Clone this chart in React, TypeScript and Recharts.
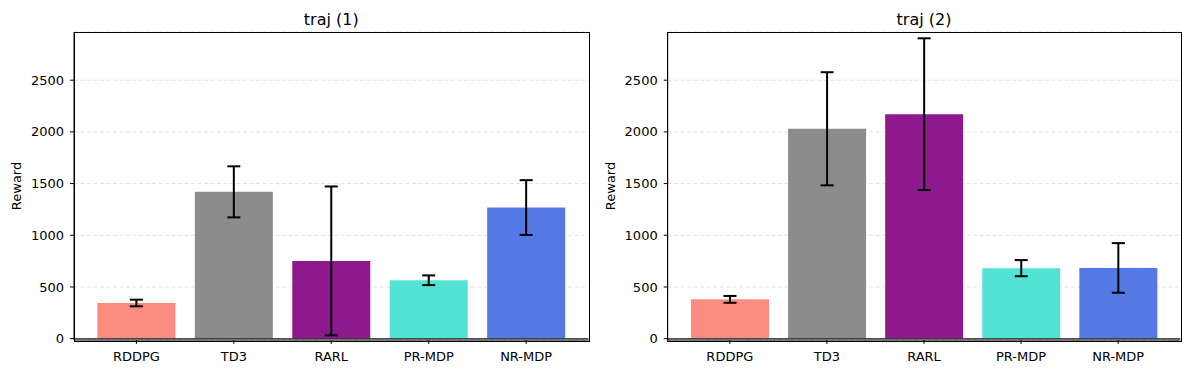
import React from 'react';
import { BarChart, Bar, XAxis, YAxis, CartesianGrid, ErrorBar, ReferenceLine, Cell } from 'recharts';

const categories = ['RDDPG', 'TD3', 'RARL', 'PR-MDP', 'NR-MDP'];
const barColors = ['#FB8D80', '#8C8C8C', '#8D198D', '#53E3D5', '#5478E4'];

const traj1Mean = [345, 1420, 752, 565, 1268];
const traj1Err = [32, 247, 720, 47, 265];

const traj2Mean = [380, 2030, 2171, 682, 684];
const traj2Err = [33, 547, 734, 78, 240];

const yTicks = [0, 500, 1000, 1500, 2000, 2500];
const yDomain: [number, number] = [-13, 2966];

const FONT = '"DejaVu Sans", sans-serif';
const H = 374;
const PLOT_TOP = 32;
const PLOT_BOTTOM = 340;
const X_AXIS_H = 30;

type PanelProps = {
  title: string;
  means: number[];
  errs: number[];
  left: number;
  width: number;
  plotLeft: number;
  plotRight: number;
};

function Panel({ title, means, errs, left, width, plotLeft, plotRight }: PanelProps) {
  const data = categories.map((name, i) => ({ name, value: means[i], err: errs[i] }));
  const W = plotRight - plotLeft;
  const pad = (W * 0.14) / 5.28;
  const tickStyle = { fill: '#000', fontSize: 13, fontFamily: FONT };
  return (
    <div style={{ position: 'absolute', left, top: 0, width, height: H }}>
      <div
        style={{
          position: 'absolute',
          left: plotLeft,
          width: W,
          top: 9.6,
          textAlign: 'center',
          fontFamily: FONT,
          fontSize: 16,
          lineHeight: 'normal',
          color: '#000',
          whiteSpace: 'nowrap',
        }}
      >
        {title}
      </div>
      <BarChart
        width={width}
        height={H}
        data={data}
        margin={{ top: PLOT_TOP, right: width - plotRight, bottom: H - PLOT_BOTTOM - X_AXIS_H, left: 0 }}
        barCategoryGap="10%"
      >
        <CartesianGrid vertical={false} stroke="#e0e0e0" strokeDasharray="4 2.5" />
        <XAxis
          dataKey="name"
          height={X_AXIS_H}
          padding={{ left: pad, right: pad }}
          tickSize={4}
          tickMargin={8}
          stroke="#000"
          fontSize={13}
          tick={tickStyle}
          interval={0}
        />
        <YAxis
          width={plotLeft}
          type="number"
          domain={yDomain}
          ticks={yTicks}
          allowDataOverflow
          tickSize={4}
          tickMargin={6}
          stroke="#000"
          fontSize={13}
          tick={tickStyle}
          label={{
            value: 'Reward',
            angle: -90,
            position: 'center',
            dx: -(plotLeft / 2 - 16),
            fontSize: 13,
            fill: '#000',
            fontFamily: FONT,
          }}
        />
        <ReferenceLine y={0} stroke="#333" strokeWidth={1} />
        <Bar dataKey="value" isAnimationActive={false}>
          {data.map((d, i) => (
            <Cell key={d.name} fill={barColors[i]} />
          ))}
          <ErrorBar dataKey="err" width={6.5} stroke="#000" strokeWidth={2} direction="y" />
        </Bar>
      </BarChart>
      <div
        style={{
          position: 'absolute',
          left: plotLeft - 0.5,
          top: PLOT_TOP - 0.5,
          width: W,
          height: PLOT_BOTTOM - PLOT_TOP,
          border: '1px solid #000',
          pointerEvents: 'none',
        }}
      />
    </div>
  );
}

export default function App() {
  return (
    <div style={{ position: 'absolute', left: 0, top: 0, width: 1189, height: H, background: '#fff' }}>
      <Panel title="traj (1)" means={traj1Mean} errs={traj1Err} left={0} width={600} plotLeft={74} plotRight={588.5} />
      <Panel title="traj (2)" means={traj2Mean} errs={traj2Err} left={594} width={595} plotLeft={73.7} plotRight={586.3} />
    </div>
  );
}
